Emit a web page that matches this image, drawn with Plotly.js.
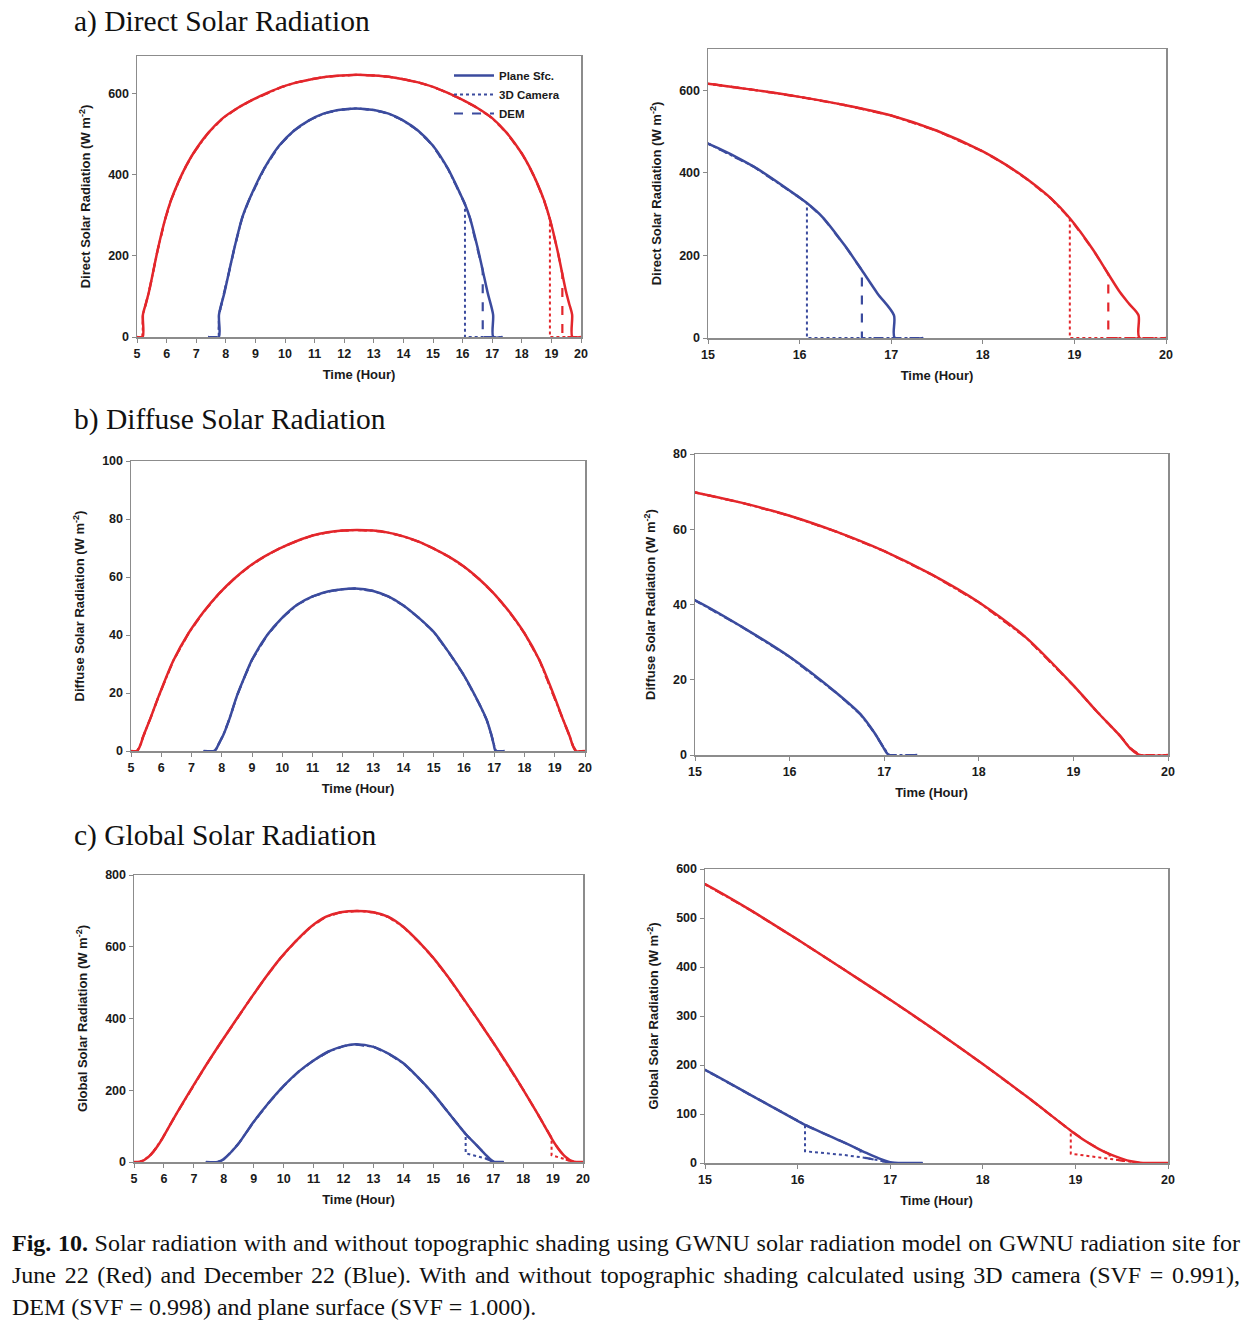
<!DOCTYPE html>
<html>
<head>
<meta charset="utf-8">
<script src="https://cdn.plot.ly/plotly-3.0.1.min.js"></script>
<style>
  body { margin: 0; background: #fff; }
  #chart { width: 1258px; height: 1324px; }
  .caption {
    position: absolute; left: 12px; top: 1227px; width: 1228px;
    font-family: "Liberation Serif", "Times New Roman", serif;
    font-size: 24px; line-height: 32px; color: #111;
  }
  .caption .just { text-align: justify; text-align-last: justify; }
</style>
</head>
<body>
<div id="chart"></div>
<div class="caption">
  <div class="just"><b>Fig. 10.</b> Solar radiation with and without topographic shading using GWNU solar radiation model on GWNU radiation site for</div>
  <div class="just">June 22 (Red) and December 22 (Blue). With and without topographic shading calculated using 3D camera (SVF = 0.991),</div>
  <div>DEM (SVF = 0.998) and plane surface (SVF = 1.000).</div>
</div>
<script>
// ---- data (hour, W m-2) ----
// June 22 (red)
var juneDirectTime  = [5.0, 5.19, 5.2, 5.3, 5.4, 5.53, 5.7, 5.95, 6.15, 6.4, 6.65, 6.9, 7.4, 7.9, 8.4, 8.9, 9.4, 9.9, 10.4, 10.9, 11.4, 11.9, 12.45, 13, 13.5, 14, 14.5, 15, 15.5, 16, 16.5, 17, 17.5, 18, 18.25, 18.5, 18.75, 18.95, 19.2, 19.37, 19.5, 19.6, 19.7, 19.71, 20];
var juneDirectPlane = [0, 0, 55, 82, 110, 155, 215, 290, 337, 382, 420, 452, 502, 539, 564, 584, 601, 616, 627, 635, 641, 644, 646, 644, 641, 635, 627, 616, 601, 584, 564, 539, 502, 452, 420, 382, 337, 290, 215, 155, 110, 82, 55, 0, 0];

var juneDiffuseTime  = [5.0, 5.2, 5.3, 5.4, 5.65, 5.9, 6.4, 6.9, 7.4, 7.9, 8.4, 8.9, 9.4, 9.9, 10.5, 11, 11.5, 12, 12.45, 13, 13.5, 14, 14.5, 15, 15.5, 16, 16.5, 17, 17.5, 18, 18.5, 19, 19.25, 19.5, 19.6, 19.7, 20];
var juneDiffusePlane = [0, 0, 1.8, 4.9, 11.5, 18.5, 31.2, 40.6, 48, 54.2, 59.3, 63.6, 67, 69.8, 72.5, 74.3, 75.4, 76, 76.2, 76, 75.3, 74, 72.2, 69.8, 67, 63.6, 59.3, 54.2, 48, 40.6, 31.2, 18.5, 11.5, 4.9, 1.8, 0, 0];

var juneGlobalTime  = [5.0, 5.1, 5.2, 5.3, 5.4, 5.53, 5.65, 5.8, 5.95, 6.4, 6.9, 7.4, 7.9, 8.4, 8.9, 9.4, 9.9, 10.4, 10.9, 11.4, 11.9, 12.45, 13, 13.5, 14, 14.5, 15, 15.5, 16, 16.5, 17, 17.5, 18, 18.5, 18.95, 19.1, 19.25, 19.37, 19.5, 19.6, 19.7, 19.8, 20];
var juneGlobalPlane = [0, 0, 0.5, 3.5, 9, 18, 29, 46, 66, 132, 202, 269, 333, 395, 456, 515, 569, 615, 655, 683, 696, 700, 696, 683, 655, 615, 569, 515, 456, 395, 333, 269, 202, 132, 66, 46, 29, 18, 9, 3.5, 0.5, 0, 0];
// shaded tails of global (diffuse only after the sun is blocked)
var juneGlobalCameraTailT = [18.95, 19, 19.25, 19.37, 19.5, 19.7, 20];
var juneGlobalCameraTailV = [19, 18, 11.5, 8.5, 5, 0, 0];
var juneGlobalDemTailT = [19.37, 19.5, 19.7, 20];
var juneGlobalDemTailV = [8.5, 5, 0, 0];

var juneCameraCut = 18.95;
var juneDemCut = 19.37;

// December 22 (blue)
var decDirectTime  = [7.4, 7.76, 7.77, 7.95, 8.12, 8.3, 8.55, 8.8, 9.3, 9.8, 10.3, 10.8, 11.3, 11.8, 12.4, 13, 13.5, 14, 14.5, 15, 15.5, 16, 16.08, 16.25, 16.5, 16.68, 16.85, 17.03, 17.04, 17.35];
var decDirectPlane = [0, 0, 55, 108, 164, 222, 293, 340, 415, 471, 508, 533, 550, 559, 563, 559, 550, 533, 508, 471, 415, 340, 327, 293, 222, 164, 108, 55, 0, 0];

var decDiffuseTime  = [7.4, 7.75, 7.82, 7.9, 8.05, 8.25, 8.5, 8.75, 9, 9.5, 10, 10.5, 11, 11.5, 12, 12.4, 13, 13.5, 14, 14.5, 15, 15.5, 16, 16.5, 16.75, 16.9, 16.98, 17.05, 17.35];
var decDiffusePlane = [0, 0, 0.8, 2.5, 5.5, 11, 19, 25.5, 31.5, 40, 46, 50.5, 53.3, 55, 55.8, 56, 55.2, 53.3, 50.2, 46, 41.1, 34, 26.1, 16.4, 10.8, 5.8, 2.5, 0, 0];

var decGlobalTime  = [7.4, 7.8, 8, 8.25, 8.5, 8.75, 9, 9.5, 10, 10.5, 11, 11.5, 12, 12.4, 13, 13.5, 14, 14.5, 15, 15.5, 16, 16.08, 16.5, 16.68, 16.75, 16.9, 17.02, 17.1, 17.35];
var decGlobalPlane = [0, 0, 8, 28, 52, 82, 112, 165, 212, 252, 283, 308, 323, 328, 321, 302, 275, 235, 190, 138, 86, 78, 42, 26, 20, 8, 1, 0, 0];
var decGlobalCameraTailT = [16.08, 16.5, 16.75, 16.9, 17.02, 17.35];
var decGlobalCameraTailV = [24, 16.4, 10, 4, 0, 0];
var decGlobalDemTailT = [16.68, 16.75, 16.9, 17.02, 17.35];
var decGlobalDemTailV = [11.5, 10, 4, 0, 0];

var decCameraCut = 16.08;
var decDemCut = 16.68;

var scenarioNames = ['Plane Sfc.', '3D Camera', 'DEM'];

// ---- styling ----
var RED = '#e3262b';
var BLUE = '#3b4b9e';
var W = 1258, H = 1324;
var sans = 'Liberation Sans, Arial, sans-serif';

// keep plane points up to the cut time, then follow the tail
function shaded(t, v, cut, tailT, tailV) {
  var x = [], y = [];
  for (var i = 0; i < t.length; i++) {
    if (t[i] <= cut) { x.push(t[i]); y.push(v[i]); }
  }
  return {x: x.concat(tailT), y: y.concat(tailV)};
}

var traces = [];

function addSet(n, t, plane, cam, dem, color, legend) {
  var xa = 'x' + (n === 1 ? '' : n), ya = 'y' + (n === 1 ? '' : n);
  var common = {type: 'scatter', mode: 'lines', xaxis: xa, yaxis: ya, hoverinfo: 'x+y'};
  // shaded lines stay linear so their drops are straight verticals
  traces.push(Object.assign({}, common, {x: cam.x, y: cam.y, name: scenarioNames[1], legendrank: 2,
    showlegend: legend, line: {color: color, width: 2, dash: 'dot'}}));
  traces.push(Object.assign({}, common, {x: dem.x, y: dem.y, name: scenarioNames[2], legendrank: 3,
    showlegend: legend, line: {color: color, width: 2.2, dash: 'dash'}}));
  traces.push(Object.assign({}, common, {x: t, y: plane, name: scenarioNames[0], legendrank: 1,
    showlegend: legend, line: {color: color, width: 2.5, shape: 'spline', smoothing: 0.8}}));
}

// a) direct: shaded lines drop to zero
function directSet(n, legend) {
  addSet(n, juneDirectTime, juneDirectPlane,
    shaded(juneDirectTime, juneDirectPlane, juneCameraCut, [juneCameraCut, 20], [0, 0]),
    shaded(juneDirectTime, juneDirectPlane, juneDemCut, [juneDemCut, 20], [0, 0]), RED, false);
  addSet(n, decDirectTime, decDirectPlane,
    shaded(decDirectTime, decDirectPlane, decCameraCut, [decCameraCut, 17.35], [0, 0]),
    shaded(decDirectTime, decDirectPlane, decDemCut, [decDemCut, 17.35], [0, 0]), BLUE, legend);
}
// b) diffuse: all three surfaces overlap
function diffuseSet(n) {
  var jd = {x: juneDiffuseTime, y: juneDiffusePlane};
  var dd = {x: decDiffuseTime, y: decDiffusePlane};
  addSet(n, juneDiffuseTime, juneDiffusePlane, jd, jd, RED, false);
  addSet(n, decDiffuseTime, decDiffusePlane, dd, dd, BLUE, false);
}
// c) global
function globalSet(n) {
  addSet(n, juneGlobalTime, juneGlobalPlane,
    shaded(juneGlobalTime, juneGlobalPlane, juneCameraCut, juneGlobalCameraTailT, juneGlobalCameraTailV),
    shaded(juneGlobalTime, juneGlobalPlane, juneDemCut, juneGlobalDemTailT, juneGlobalDemTailV), RED, false);
  addSet(n, decGlobalTime, decGlobalPlane,
    shaded(decGlobalTime, decGlobalPlane, decCameraCut, decGlobalCameraTailT, decGlobalCameraTailV),
    shaded(decGlobalTime, decGlobalPlane, decDemCut, decGlobalDemTailT, decGlobalDemTailV), BLUE, false);
}

directSet(1, true);
directSet(2, false);
diffuseSet(3);
diffuseSet(4);
globalSet(5);
globalSet(6);

// plot boxes in pixels: [left, right, top, bottom]
var boxes = [
  [137, 581, 56, 337],
  [708, 1166, 49, 338],
  [131, 585, 461, 751],
  [695, 1168, 454, 755],
  [134, 583, 875, 1162],
  [705, 1168, 869, 1163]
];
var xRanges = [[5, 20], [15, 20], [5, 20], [15, 20], [5, 20], [15, 20]];
var yRanges = [[0, 692], [0, 700], [0, 100], [0, 80], [0, 800], [0, 600]];
var yDticks = [200, 200, 20, 20, 200, 100];
var yTitles = ['Direct Solar Radiation (W m<sup>-2</sup>)', 'Direct Solar Radiation (W m<sup>-2</sup>)',
  'Diffuse Solar Radiation (W m<sup>-2</sup>)', 'Diffuse Solar Radiation (W m<sup>-2</sup>)',
  'Global Solar Radiation (W m<sup>-2</sup>)', 'Global Solar Radiation (W m<sup>-2</sup>)'];

var tickFont = {family: sans, size: 12.5, color: '#1a1a1a', weight: 700};
var titleFont = {family: sans, size: 13, color: '#1a1a1a', weight: 700};

var layout = {
  width: W, height: H,
  margin: {l: 0, r: 0, t: 0, b: 0},
  paper_bgcolor: '#fff', plot_bgcolor: '#fff',
  showlegend: true,
  legend: {x: 449 / W, y: 1 - 61 / H, xanchor: 'left', yanchor: 'top', bgcolor: 'rgba(0,0,0,0)',
    font: {family: sans, size: 11.5, color: '#1a1a1a', weight: 700}, tracegroupgap: 0, itemwidth: 40},
  annotations: [],
  shapes: []
};

for (var i = 0; i < 6; i++) {
  var b = boxes[i], k = i + 1, suf = k === 1 ? '' : k;
  layout['xaxis' + suf] = {
    domain: [b[0] / W, b[1] / W], anchor: 'y' + suf, range: xRanges[i],
    tickmode: 'linear', dtick: 1, ticks: 'outside', ticklen: 4, tickcolor: '#888',
    showline: true, mirror: true, linecolor: '#8c8c8c', linewidth: 1.5,
    showgrid: false, zeroline: false, tickfont: tickFont,
    title: {text: 'Time (Hour)', font: titleFont, standoff: 10}
  };
  layout['yaxis' + suf] = {
    domain: [1 - b[3] / H, 1 - b[2] / H], anchor: 'x' + suf, range: yRanges[i],
    tickmode: 'linear', dtick: yDticks[i], ticks: 'outside', ticklen: 4, tickcolor: '#888',
    showline: true, mirror: true, linecolor: '#8c8c8c', linewidth: 1.5,
    showgrid: false, zeroline: false, tickfont: tickFont,
    title: {text: yTitles[i], font: titleFont, standoff: 14}
  };
}

var panelTitles = [['a) Direct Solar Radiation', 21], ['b) Diffuse Solar Radiation', 419], ['c) Global Solar Radiation', 835]];
panelTitles.forEach(function (p) {
  layout.annotations.push({
    text: p[0], xref: 'paper', yref: 'paper', x: 72 / W, y: 1 - p[1] / H,
    xanchor: 'left', yanchor: 'middle', showarrow: false,
    font: {family: 'Liberation Serif, Times New Roman, serif', size: 29.5, color: '#111'}
  });
});

Plotly.newPlot('chart', traces, layout, {displayModeBar: false, staticPlot: true});
</script>
</body>
</html>
